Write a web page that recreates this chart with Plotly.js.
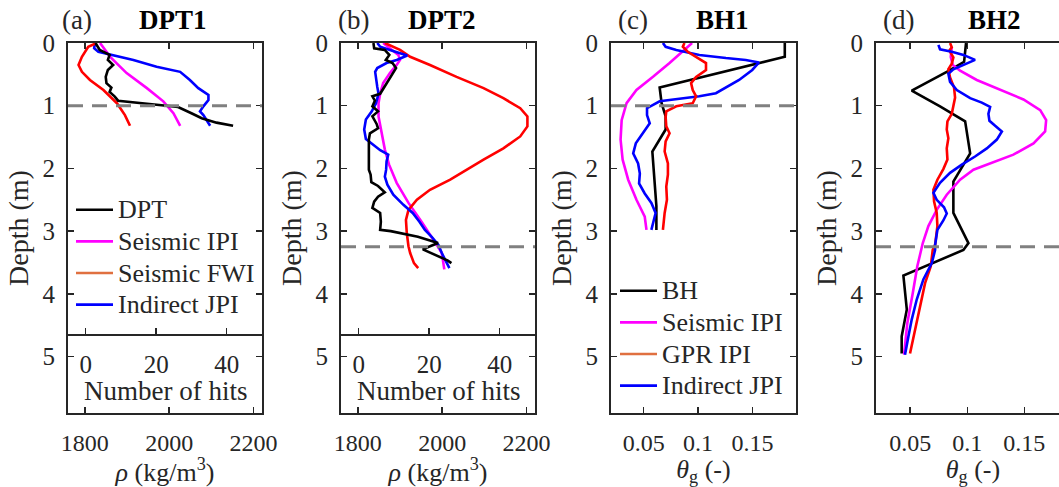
<!DOCTYPE html>
<html>
<head>
<meta charset="utf-8">
<script src="https://cdn.plot.ly/plotly-3.0.1.min.js"></script>
<style>
html,body{margin:0;padding:0;overflow:hidden;background:#fff;}
#chart{width:1080px;height:487px;}
</style>
</head>
<body>
<div id="chart"></div>
<script>
// ---------- Panel (a) DPT1 ----------
const dptA_depth = [0, 0.11, 0.19, 0.27, 0.35, 0.43, 0.54, 0.64, 0.71, 0.78, 0.85, 0.92, 1.0, 1.02, 1.12, 1.2, 1.27, 1.32];
const dptA_hits  = [2.8, 4.0, 6.8, 6.3, 7.8, 6.3, 5.7, 5.9, 7.3, 6.8, 8.2, 9.2, 22.9, 26.2, 30.0, 32.9, 37.1, 41.8];
const ipiA_depth = [0, 0.22, 0.48, 0.72, 0.93, 1.12, 1.32];
const ipiA_rho   = [1836, 1860, 1899, 1947, 1986, 2010, 2026];
const fwiA_depth = [0, 0.06, 0.22, 0.35, 0.46, 0.59, 0.75, 0.96, 1.15, 1.32];
const fwiA_rho   = [1828, 1808, 1793, 1785, 1793, 1812, 1844, 1876, 1895, 1907];
const jpiA_depth = [0, 0.085, 0.14, 0.19, 0.27, 0.38, 0.46, 0.59, 0.72, 0.83, 0.91, 1.01, 1.09, 1.15, 1.23, 1.32];
const jpiA_rho   = [1824, 1822, 1832, 1867, 1915, 1970, 2026, 2049, 2069, 2093, 2093, 2081, 2073, 2081, 2089, 2097];

// ---------- Panel (b) DPT2 ----------
const dptB_depth = [0, 0.085, 0.11, 0.19, 0.27, 0.32, 0.40, 0.54, 0.70, 0.81, 0.85, 0.92, 1.01, 1.09, 1.17, 1.29, 1.36, 1.44, 1.54, 2.02, 2.10, 2.22, 2.28, 2.38, 2.45, 2.53, 2.63, 2.71, 2.85, 2.98, 3.0, 3.09, 3.19, 3.29, 3.47, 3.51];
const dptB_hits  = [4.2, 4.4, 7.4, 8.7, 7.7, 9.6, 10.6, 9.1, 7.2, 6.1, 3.9, 4.6, 3.9, 5.5, 3.9, 5.1, 5.5, 3.2, 2.9, 2.9, 3.4, 3.6, 5.5, 7.4, 5.5, 4.4, 3.9, 6.1, 6.3, 6.1, 9.1, 16.8, 22.5, 18.2, 25.3, 26.3];
const ipiB_depth = [0, 0.09, 0.19, 0.27, 0.35, 0.48, 0.64, 0.80, 0.96, 1.17, 1.44, 1.70, 1.94, 2.23, 2.55, 2.85, 3.22, 3.35, 3.61];
const ipiB_rho   = [1860, 1876, 1896, 1900, 1892, 1876, 1860, 1853, 1849, 1849, 1857, 1864, 1874, 1892, 1920, 1951, 1987, 1999, 2005];
const fwiB_depth = [0, 0.11, 0.22, 0.35, 0.54, 0.72, 0.88, 1.04, 1.17, 1.33, 1.49, 1.68, 1.86, 2.02, 2.18, 2.34, 2.50, 2.66, 2.82, 3.03, 3.24, 3.35, 3.51, 3.59];
const fwiB_rho   = [1864, 1900, 1924, 1971, 2034, 2098, 2145, 2185, 2202, 2202, 2185, 2145, 2098, 2058, 2019, 1971, 1940, 1920, 1914, 1916, 1920, 1924, 1933, 1943];
const jpiB_depth = [0, 0.06, 0.11, 0.16, 0.2, 0.27, 0.32, 0.40, 0.46, 0.70, 0.81, 0.96, 1.09, 1.22, 1.38, 1.53, 1.62, 1.71, 1.78, 1.89, 2.02, 2.13, 2.26, 2.42, 2.58, 2.71, 2.85, 2.98, 3.09, 3.22, 3.35, 3.59];
const jpiB_rho   = [1846, 1853, 1876, 1900, 1917, 1892, 1868, 1846, 1841, 1846, 1849, 1843, 1833, 1819, 1815, 1819, 1837, 1853, 1872, 1868, 1867, 1864, 1870, 1884, 1908, 1930, 1946, 1959, 1975, 1991, 1999, 2017];

// ---------- Panel (c) BH1 ----------
const bhC_depth  = [0, 0.22, 0.71, 0.96, 1.17, 1.38, 1.73, 2.6, 2.98];
const bhC_theta  = [0.1797, 0.1797, 0.0647, 0.0665, 0.0702, 0.0702, 0.058, 0.0617, 0.0617];
const ipiC_depth = [0, 0.11, 0.32, 0.54, 0.75, 0.96, 1.23, 1.54, 1.86, 2.18, 2.50, 2.77, 2.98];
const ipiC_theta = [0.0945, 0.0875, 0.0738, 0.0586, 0.0434, 0.0343, 0.0298, 0.0288, 0.0307, 0.0358, 0.0434, 0.051, 0.0526];
const gprC_depth = [0, 0.06, 0.14, 0.22, 0.32, 0.43, 0.54, 0.64, 0.75, 0.85, 0.96, 1.01, 1.09, 1.18, 1.33, 1.44, 1.57, 1.73, 1.92, 2.10, 2.29, 2.50, 2.71, 2.98];
const gprC_theta = [0.0875, 0.086, 0.0905, 0.0982, 0.1073, 0.1073, 0.0982, 0.0936, 0.0951, 0.0982, 0.0951, 0.08, 0.0708, 0.0702, 0.0708, 0.0738, 0.0702, 0.0693, 0.0723, 0.0723, 0.0708, 0.0714, 0.0693, 0.0677];
const jpiC_depth = [0, 0.06, 0.11, 0.19, 0.24, 0.27, 0.31, 0.43, 0.59, 0.71, 0.80, 0.85, 0.93, 1.04, 1.15, 1.28, 1.44, 1.60, 1.76, 1.92, 2.08, 2.24, 2.40, 2.55, 2.71, 2.98];
const jpiC_theta = [0.0677, 0.0702, 0.08, 0.1012, 0.1256, 0.1438, 0.156, 0.1498, 0.1377, 0.1256, 0.1164, 0.1012, 0.0647, 0.0531, 0.0531, 0.0556, 0.0495, 0.0428, 0.0404, 0.0449, 0.0465, 0.0458, 0.051, 0.0571, 0.061, 0.0571];

// ---------- Panel (d) BH2 ----------
const bhD_depth  = [0, 0.30, 0.46, 0.76, 1.01, 1.25, 1.76, 2.21, 2.71, 3.19, 3.30, 3.51, 3.71, 4.25, 4.68, 4.95];
const bhD_theta  = [0.0989, 0.0972, 0.082, 0.0513, 0.0761, 0.0981, 0.1025, 0.0878, 0.0878, 0.101, 0.0966, 0.0703, 0.044, 0.047, 0.0425, 0.0425];
const ipiD_depth = [0.06, 0.22, 0.35, 0.44, 0.59, 0.74, 0.90, 1.07, 1.23, 1.41, 1.60, 1.78, 1.92, 2.02, 2.18, 2.42, 2.66, 2.92, 3.19, 3.56, 3.99, 4.46, 4.97];
const ipiD_theta = [0.0864, 0.0855, 0.0873, 0.0937, 0.1083, 0.1288, 0.1492, 0.1639, 0.1691, 0.1682, 0.158, 0.1404, 0.12, 0.1054, 0.0937, 0.082, 0.0732, 0.0659, 0.061, 0.0562, 0.0522, 0.0475, 0.0446];
const gprD_depth = [0, 0.07, 0.12, 0.23, 0.33, 0.42, 0.55, 0.71, 0.87, 1.02, 1.13, 1.25, 1.38, 1.52, 1.68, 1.86, 2.01, 2.18, 2.34, 2.53, 2.71, 2.92, 3.22, 3.30, 3.56, 3.83, 4.20, 4.57, 4.95];
const gprD_theta = [0.0849, 0.0864, 0.0843, 0.0878, 0.0864, 0.0834, 0.0849, 0.0884, 0.0893, 0.0878, 0.0864, 0.0826, 0.082, 0.0834, 0.082, 0.0826, 0.079, 0.0738, 0.0703, 0.0709, 0.0732, 0.0738, 0.0718, 0.0697, 0.068, 0.063, 0.0586, 0.0542, 0.0498];
const jpiD_depth = [0.03, 0.1, 0.14, 0.19, 0.27, 0.35, 0.42, 0.49, 0.62, 0.75, 0.88, 0.95, 1.02, 1.13, 1.24, 1.32, 1.41, 1.54, 1.68, 1.81, 1.94, 2.07, 2.23, 2.39, 2.50, 2.62, 2.72, 2.83, 2.98, 3.22, 3.30, 3.51, 3.77, 4.09, 4.41, 4.68, 4.97];
const jpiD_theta = [0.0747, 0.0761, 0.0864, 0.0966, 0.1068, 0.0966, 0.0878, 0.0834, 0.0849, 0.0908, 0.1025, 0.1127, 0.12, 0.1185, 0.1194, 0.1244, 0.1303, 0.1259, 0.1171, 0.1068, 0.0952, 0.0849, 0.0761, 0.0703, 0.0732, 0.0796, 0.082, 0.079, 0.0738, 0.0718, 0.0718, 0.0689, 0.0615, 0.0557, 0.0513, 0.0484, 0.0454];

// ---------- axes / labels ----------
const depthTicks = [0, 1, 2, 3, 4, 5];
const rhoTicks = [1800, 2000, 2200];
const hitsTicks = [0, 20, 40];
const thetaTicks = [0.05, 0.1, 0.15];
const thetaTickText = ['0.05', '0.1', '0.15'];
const panelLetters = ['(a)', '(b)', '(c)', '(d)'];
const panelNames = ['DPT1', 'DPT2', 'BH1', 'BH2'];
const interfaceDepth = [1.0, 3.25, 1.0, 3.25];
const legendA = ['DPT', 'Seismic IPI', 'Seismic FWI', 'Indirect JPI'];
const legendC = ['BH', 'Seismic IPI', 'GPR IPI', 'Indirect JPI'];
const hitsTitle = 'Number of hits';

// ---------- styling ----------
const W = 1080, H = 487;
const FONT = '"Liberation Serif", "Times New Roman", Times, serif';
const TXT = '#262626';
const px = (a, b) => [a / W, b / W];
const yDom = [1 - 413 / H, 1 - 43 / H];
const LW = 2.6;
const C = {black: '#000000', mag: '#FF00FF', red: '#FF0000', blue: '#0000FF', orange: '#E07040'};
const lg = s => '<span style="font-size:26px">' + s + '</span>';

function tr(x, y, xa, ya, color, name, legend, show) {
  return {x: x, y: y, xaxis: xa, yaxis: ya, type: 'scatter', mode: 'lines',
    line: {color: color, width: LW}, name: name ? lg(name) : 'curve', legend: legend || 'legend',
    showlegend: !!show, hoverinfo: 'skip'};
}

const data = [
  // (a)
  tr(dptA_hits, dptA_depth, 'x5', 'y', C.black, legendA[0], 'legend', true),
  tr(ipiA_rho, ipiA_depth, 'x', 'y', C.mag, legendA[1], 'legend', true),
  tr([null], [null], 'x', 'y', C.orange, legendA[2], 'legend', true),
  tr(jpiA_rho, jpiA_depth, 'x', 'y', C.blue, legendA[3], 'legend', true),
  tr(fwiA_rho, fwiA_depth, 'x', 'y', C.red, null, 'legend', false),
  // (b)
  tr(dptB_hits, dptB_depth, 'x6', 'y2', C.black),
  tr(ipiB_rho, ipiB_depth, 'x2', 'y2', C.mag),
  tr(fwiB_rho, fwiB_depth, 'x2', 'y2', C.red),
  tr(jpiB_rho, jpiB_depth, 'x2', 'y2', C.blue),
  // (c)
  tr(bhC_theta, bhC_depth, 'x3', 'y3', C.black, legendC[0], 'legend2', true),
  tr(ipiC_theta, ipiC_depth, 'x3', 'y3', C.mag, legendC[1], 'legend2', true),
  tr([null], [null], 'x3', 'y3', C.orange, legendC[2], 'legend2', true),
  tr(jpiC_theta, jpiC_depth, 'x3', 'y3', C.blue, legendC[3], 'legend2', true),
  tr(gprC_theta, gprC_depth, 'x3', 'y3', C.red, null, 'legend2', false),
  // (d)
  tr(bhD_theta, bhD_depth, 'x4', 'y4', C.black),
  tr(ipiD_theta, ipiD_depth, 'x4', 'y4', C.mag),
  tr(gprD_theta, gprD_depth, 'x4', 'y4', C.red),
  tr(jpiD_theta, jpiD_depth, 'x4', 'y4', C.blue)
];

const baseAxis = {
  showgrid: false, zeroline: false, showline: true, linecolor: TXT, linewidth: 2,
  ticks: 'inside', ticklen: 6, tickwidth: 1.5, tickcolor: TXT, mirror: 'ticks',
  tickfont: {family: FONT, size: 25, color: TXT}, fixedrange: true
};
function xAx(dom, range, tv, tt, title, anchor, standoff) {
  return Object.assign({}, baseAxis, {domain: dom, range: range, tickvals: tv, ticktext: tt,
    anchor: anchor, ticklabelstandoff: 7, tickfont: {family: FONT, size: 24, color: TXT},
    title: {text: title, font: {family: FONT, size: 26, color: TXT}, standoff: standoff}});
}
function yAx(anchor) {
  return Object.assign({}, baseAxis, {domain: yDom, range: [5.9, 0], tickvals: depthTicks,
    anchor: anchor, ticklabelstandoff: 6,
    title: {text: 'Depth (m)', font: {family: FONT, size: 28, color: TXT}, standoff: 6}});
}
function hitsAx(over) {
  return {overlaying: over, anchor: 'free', position: 1 - 335 / H, side: 'bottom',
    range: [-5, 50], tickvals: hitsTicks, showgrid: false, zeroline: false,
    showline: true, linecolor: TXT, linewidth: 2, ticks: 'inside', ticklen: 6, tickwidth: 1.5,
    tickcolor: TXT, ticklabelstandoff: 7, fixedrange: true,
    tickfont: {family: FONT, size: 25, color: TXT}};
}

const rhoTitle = '<i>ρ</i> (kg/m<sup>3</sup>)';
const thetaTitle = '<i>θ</i><sub>g</sub> (-)';

const doms = [px(68, 262), px(341, 535), px(611, 796), px(876, 1070)];
const titleX = [[77, 173], [353, 442], [633, 722], [898, 994]];

const annotations = [];
panelLetters.forEach((l, i) => {
  annotations.push({text: l, xref: 'paper', yref: 'paper', x: titleX[i][0] / W, y: 1 - 20 / H,
    xanchor: 'center', yanchor: 'middle', showarrow: false, font: {family: FONT, size: 27, color: TXT}});
  annotations.push({text: '<b>' + panelNames[i] + '</b>', xref: 'paper', yref: 'paper', x: titleX[i][1] / W, y: 1 - 20 / H,
    xanchor: 'center', yanchor: 'middle', showarrow: false, font: {family: FONT, size: 27, color: '#000'}});
});
// "Number of hits" label of the inner DPT axis in (a) and (b)
['x', 'x2'].forEach(xa => {
  annotations.push({text: hitsTitle, xref: xa + ' domain', yref: 'paper', x: 0.5, y: 1 - 391 / H,
    xanchor: 'center', yanchor: 'middle', showarrow: false, font: {family: FONT, size: 27, color: TXT}});
});

const shapes = interfaceDepth.map((d, i) => ({
  type: 'line', xref: (i === 0 ? 'x' : 'x' + (i + 1)) + ' domain', yref: i === 0 ? 'y' : 'y' + (i + 1),
  x0: 0, x1: 1, y0: d, y1: d, line: {color: '#808080', width: 3, dash: '15px,9px'}
}));

const legendBase = {bgcolor: 'rgba(0,0,0,0)', borderwidth: 0, font: {family: FONT, size: 22, color: TXT},
  itemwidth: 37, xanchor: 'left', yanchor: 'middle', tracegroupgap: 0};

const layout = {
  width: W, height: H, margin: {l: 0, r: 0, t: 0, b: 0}, paper_bgcolor: '#fff', plot_bgcolor: '#fff',
  font: {family: FONT, color: TXT, size: 24},
  showlegend: true,
  xaxis: xAx(doms[0], [1760, 2220], rhoTicks, null, rhoTitle, 'y', 10),
  xaxis2: xAx(doms[1], [1760, 2220], rhoTicks, null, rhoTitle, 'y2', 10),
  xaxis3: xAx(doms[2], [0.02, 0.19], thetaTicks, thetaTickText, thetaTitle, 'y3', 14),
  xaxis4: xAx(doms[3], [0.02, 0.19], thetaTicks, thetaTickText, thetaTitle, 'y4', 14),
  xaxis5: hitsAx('x'),
  xaxis6: hitsAx('x2'),
  yaxis: yAx('x'), yaxis2: yAx('x2'), yaxis3: yAx('x3'), yaxis4: yAx('x4'),
  legend: Object.assign({}, legendBase, {x: 71 / W, y: 1 - 257.5 / H}),
  legend2: Object.assign({}, legendBase, {x: 615 / W, y: 1 - 338.5 / H}),
  annotations: annotations, shapes: shapes
};

Plotly.newPlot('chart', data, layout, {staticPlot: true, displayModeBar: false});
</script>
</body>
</html>
